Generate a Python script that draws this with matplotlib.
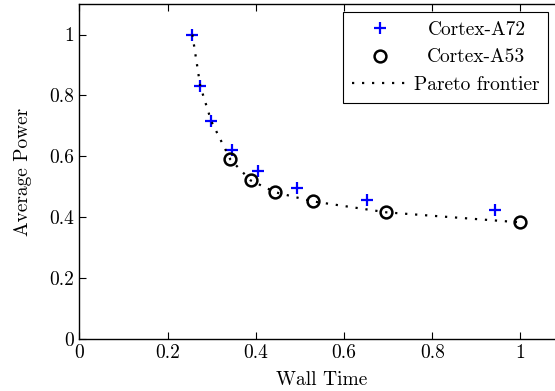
import matplotlib
matplotlib.use('Agg')
import matplotlib.pyplot as plt

plt.rcParams['font.family'] = 'serif'
plt.rcParams['font.serif'] = ['cmr10', 'DejaVu Serif']
plt.rcParams['mathtext.fontset'] = 'cm'
plt.rcParams['axes.formatter.use_mathtext'] = True
plt.rcParams['font.size'] = 14

# datos
a72_time = [0.256, 0.274, 0.299, 0.345, 0.404, 0.494, 0.653, 0.943]
a72_power = [1.0, 0.830, 0.715, 0.620, 0.551, 0.497, 0.456, 0.423]
a53_time = [0.342, 0.388, 0.444, 0.529, 0.696, 1.0]
a53_power = [0.590, 0.521, 0.482, 0.452, 0.416, 0.383]
pareto_time = [0.256, 0.274, 0.299, 0.342, 0.388, 0.444, 0.529, 0.696, 1.0]
pareto_power = [1.0, 0.830, 0.715, 0.590, 0.521, 0.482, 0.452, 0.416, 0.383]
xticks = [0, 0.2, 0.4, 0.6, 0.8, 1]
yticks = [0, 0.2, 0.4, 0.6, 0.8, 1]
ticklabels = ['0', '0.2', '0.4', '0.6', '0.8', '1']

fig = plt.figure(figsize=(5.55, 3.91), dpi=100)
ax = fig.add_axes([0.1432, 0.133, 0.874, 0.8566])

ax.plot(a72_time, a72_power, 'b+', ms=8, mew=1.6, ls='none', label='Cortex-A72')
ax.plot(a53_time, a53_power, 'o', mfc='none', mec='k', ms=8.5, mew=1.8,
        ls='none', label='Cortex-A53')
ax.plot(pareto_time, pareto_power, 'k', ls=(0, (1, 3.5)), lw=1.6,
        label='Pareto frontier')

ax.set_xlim(0, 1.1)
ax.set_ylim(0, 1.1)
ax.set_xticks(xticks)
ax.set_yticks(yticks)
ax.set_xticklabels(ticklabels)
ax.set_yticklabels(ticklabels)
ax.tick_params(direction='in', top=True, right=True, length=5, width=0.8, pad=4)
for s in ax.spines.values():
    s.set_linewidth(1.0)
ax.set_xlabel('Wall Time', labelpad=6)
ax.set_ylabel('Average Power', labelpad=12)

leg = ax.legend(loc='upper right', bbox_to_anchor=(548/555, 1-12/391),
                bbox_transform=fig.transFigure, fancybox=False,
                edgecolor='k', framealpha=1, borderaxespad=0,
                handlelength=2.9, handletextpad=0.3, borderpad=0.45,
                labelspacing=0.5, markerfirst=True)
leg.get_frame().set_linewidth(0.8)

# centrar las etiquetas de la leyenda como en pgfplots
fig.canvas.draw()
r = fig.canvas.get_renderer()
textos = leg.get_texts()
anchos = [t.get_window_extent(r).width for t in textos]
wmax = max(anchos)
for t, w in zip(textos, anchos):
    t.set_x((wmax - w) / 2)

fig.savefig('out.png', dpi=100)
